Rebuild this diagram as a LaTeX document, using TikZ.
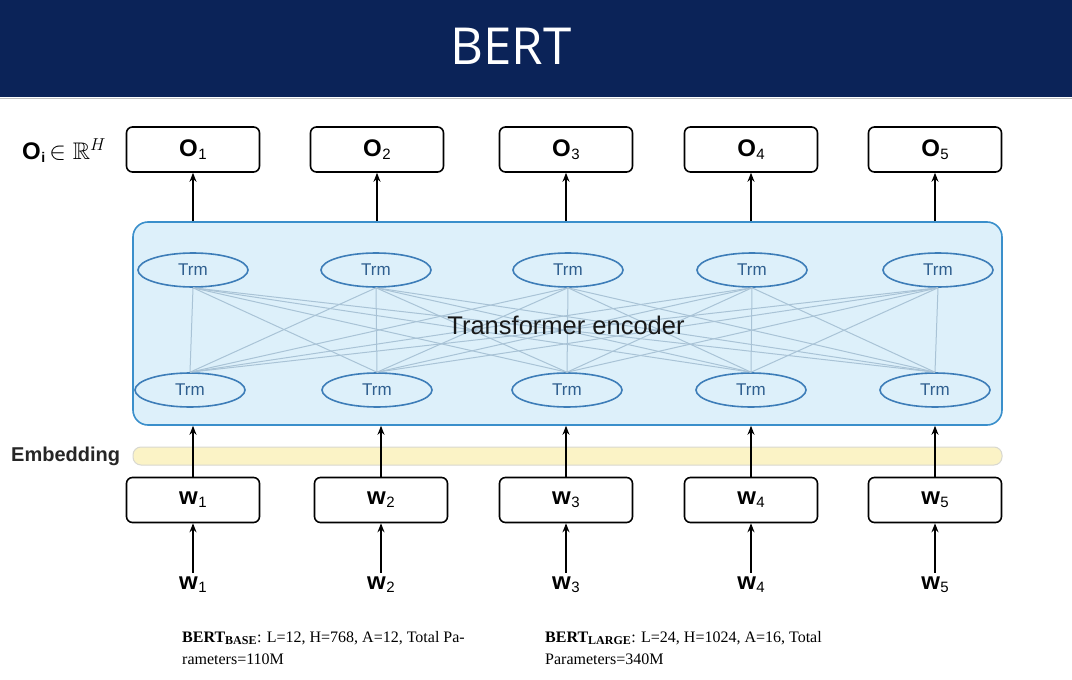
\documentclass[tikz,border=0pt]{standalone}
\usepackage{fontspec}
\usepackage{amssymb}
\setmainfont{Liberation Sans}
\newfontfamily\titlefont{Open Sans}
\newfontfamily\serifnote{Liberation Serif}
\usetikzlibrary{arrows.meta,shapes.geometric}
\definecolor{navy}{HTML}{0B2358}
\definecolor{encfill}{HTML}{DDF0FA}
\definecolor{encdraw}{HTML}{3A8FCB}
\definecolor{trmdraw}{HTML}{3D7DB8}
\definecolor{trmtext}{HTML}{2F5F8F}
\definecolor{linkcol}{HTML}{A9C3D6}
\definecolor{embfill}{HTML}{FBF3C6}
\definecolor{embdraw}{HTML}{D8D8D0}
\newcommand{\tokl}[2]{{\bfseries #1}\kern0.5pt\raisebox{-3pt}{\fontsize{15}{15}\selectfont\mdseries #2}}
\tikzset{
  tokbox/.style={draw=black, line width=1.6pt, rounded corners=6pt, minimum width=133pt, minimum height=45pt, inner sep=0pt, font=\fontsize{24}{26}\selectfont},
  trm/.style={ellipse, draw=trmdraw, line width=1.6pt, minimum width=110pt, minimum height=34pt, inner sep=0pt, font=\fontsize{17}{18}\selectfont\color{trmtext}},
  uparrow/.style={-{Stealth[length=9pt,width=7pt]}, line width=1.6pt, black},
  link/.style={linkcol, line width=1pt},
  lbl/.style={font=\fontsize{24}{26}\selectfont, inner sep=0pt},
  note/.style={font=\serifnote\fontsize{16}{22}\selectfont, align=left, anchor=north west, inner sep=0pt}
}
\begin{document}
\begin{tikzpicture}[x=1pt,y=-1pt]
\useasboundingbox (0,0) rectangle (1072,680);
\fill[white] (0,0) rectangle (1072,680);
% header
\fill[navy] (0,0) rectangle (1072,97);
\draw[gray!50, line width=1pt] (0,98) -- (1072,98);
\node[text=white, font=\titlefont\fontsize{51}{56}\selectfont] (title) at (511,46) {BERT};

% encoder box
\node[draw=encdraw, fill=encfill, line width=1.6pt, rounded corners=15pt, minimum width=869pt, minimum height=203pt, inner sep=0pt] (enc) at (567.5,323.5) {};
% embedding bar
\node[draw=embdraw, fill=embfill, line width=1pt, rounded corners=8pt, minimum width=869pt, minimum height=18pt, inner sep=0pt] (emb) at (567.5,456) {};
\node[font=\fontsize{20}{22}\selectfont\bfseries, anchor=west, inner sep=0pt, text=black!85] (emblbl) at (11,456) {Embedding};

% Trm nodes
\foreach \i/\xt/\xb in {1/193/190, 2/376/377, 3/568/567, 4/752/751, 5/938/935} {
  \node[trm] (t\i) at (\xt,270) {Trm};
  \node[trm] (b\i) at (\xb,390) {Trm};
}
% links
\foreach \i in {1,...,5} {
  \foreach \j in {1,...,5} {
    \draw[link] (b\i.north) -- (t\j.south);
  }
}
\node[font=\fontsize{25.5}{28}\selectfont, inner sep=0pt, text=black!90] (enclbl) at (566,325) {Transformer encoder};

% output boxes
\foreach \i/\x in {1/193, 2/377, 3/566, 4/751, 5/935} {
  \node[tokbox] (o\i) at (\x,149.5) {\tokl{O}{\i}};
  \draw[uparrow] (enc.north -| o\i) -- (o\i.south);
}
\node[font=\fontsize{24}{26}\selectfont, inner sep=0pt, anchor=west] (oi) at (22,151) {\textbf{O}\kern0.5pt\raisebox{-3pt}{\fontsize{14}{14}\selectfont\bfseries i}\,$\in\mathbb{R}^{H}$};

% input boxes
\foreach \i/\x in {1/193, 2/381, 3/566, 4/751, 5/935} {
  \node[tokbox] (w\i) at (\x,500) {\tokl{w}{\i}};
  \node[lbl] (in\i) at (\x,585) {\tokl{w}{\i}};
  \draw[uparrow] (w\i.north) -- (enc.south -| w\i);
  \path (in\i.north) ++(0,-4) coordinate (s\i);
  \draw[uparrow] (s\i) -- (w\i.south);
}

% notes
\node[note] (n1) at (182,631) {\textbf{BERT}\textsubscript{\bfseries\fontsize{12}{12}\selectfont BASE}: L=12, H=768, A=12, Total Pa-\\rameters=110M};
\node[note] (n2) at (545,631) {\textbf{BERT}\textsubscript{\bfseries\fontsize{12}{12}\selectfont LARGE}: L=24, H=1024, A=16, Total\\Parameters=340M};
\end{tikzpicture}
\end{document}
